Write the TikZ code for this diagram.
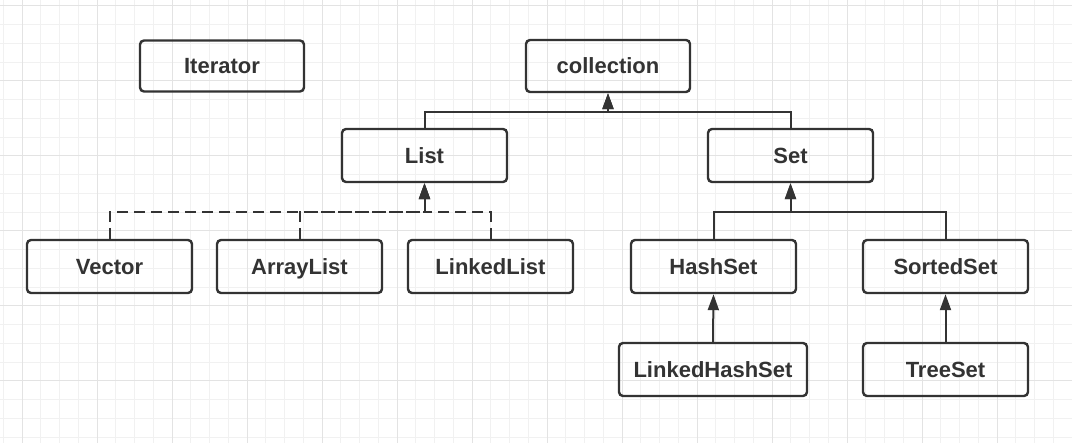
\documentclass[tikz,border=0pt]{standalone}
\usepackage{fontspec}
\setmainfont{Liberation Sans}
\usepackage{tikz}
\usetikzlibrary{arrows.meta,calc,positioning}
\definecolor{inkgray}{HTML}{333333}
\definecolor{gridminor}{HTML}{F1F1F1}
\definecolor{gridmajor}{HTML}{E3E3E3}

\begin{document}
\begin{tikzpicture}[x=1pt,y=-1pt,
  cls/.style={draw=inkgray,text=inkgray,line width=2.4pt,rounded corners=4pt,
    minimum width=165pt,minimum height=53pt,inner sep=0pt,
    text height=15.8pt,text depth=0pt,
    font=\fontsize{22}{26}\selectfont\bfseries},
  inherit/.style={draw=inkgray,line width=2pt,
    -{Triangle[length=16pt,width=11pt]}},
  realize/.style={inherit,dash pattern=on 11pt off 6pt}]
  % --- background grid ---
  \useasboundingbox (0,0) rectangle (1072,443);
  \foreach \gx in {0,...,57}
    \draw[gridminor,line width=1pt] ({3.25+18.75*\gx},0) -- ({3.25+18.75*\gx},443);
  \foreach \gy in {0,...,23}
    \draw[gridminor,line width=1pt] (0,{6+18.75*\gy}) -- (1072,{6+18.75*\gy});
  \foreach \gx in {0,...,14}
    \draw[gridmajor,line width=1pt] ({22+75*\gx},0) -- ({22+75*\gx},443);
  \foreach \gy in {0,...,5}
    \draw[gridmajor,line width=1pt] (0,{6+75*\gy}) -- (1072,{6+75*\gy});

  % --- classes ---
  \node[cls,minimum width=164pt,minimum height=51pt] (iterator) at (222,66) {Iterator};
  \node[cls,minimum width=164pt,minimum height=52pt] (collection) at (608,66) {collection};
  \node[cls] (list) at (424.5,155.5) {List};
  \node[cls] (set) at (790.5,155.5) {Set};
  \node[cls] (vector) at (109.5,266.5) {Vector};
  \node[cls] (arraylist) at (299.5,266.5) {ArrayList};
  \node[cls] (linkedlist) at (490.5,266.5) {LinkedList};
  \node[cls] (hashset) at (713.5,266.5) {HashSet};
  \node[cls] (sortedset) at (945.5,266.5) {SortedSet};
  \node[cls,minimum width=188pt] (linkedhashset) at (713,369.5) {LinkedHashSet};
  \node[cls] (treeset) at (945.5,369.5) {TreeSet};

  % --- junctions ---
  \coordinate (colljoin) at ($(collection.south)+(0,19)$);
  \coordinate (listjoin) at ($(list.south)+(0,29)$);
  \coordinate (setjoin) at ($(set.south)+(0,29)$);

  % --- connectors ---
  \draw[inherit] (list.north) |- (colljoin) -- (collection.south);
  \draw[inherit] (set.north) |- (colljoin) -- (collection.south);
  \draw[realize] (vector.north) |- (listjoin) -- (list.south);
  \draw[realize] (arraylist.north) |- (listjoin) -- (list.south);
  \draw[realize] (linkedlist.north) |- (listjoin) -- (list.south);
  \draw[inherit] (hashset.north) |- (setjoin) -- (set.south);
  \draw[inherit] (sortedset.north) |- (setjoin) -- (set.south);
  \draw[inherit] (linkedhashset.north) -- (hashset.south);
  \draw[inherit] (treeset.north) -- (sortedset.south);
\end{tikzpicture}
\end{document}
